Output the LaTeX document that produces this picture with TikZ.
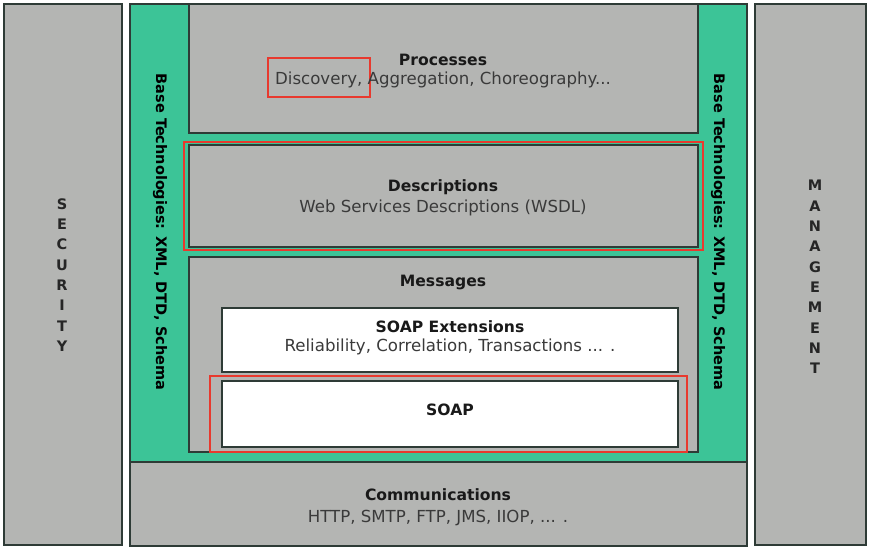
\documentclass[tikz,border=0pt]{standalone}
\usepackage{fontspec}
\setmainfont{DejaVu Sans}
\definecolor{panelgray}{HTML}{B4B5B3}
\definecolor{basegreen}{HTML}{3CC497}
\definecolor{hlred}{HTML}{E8392E}
\definecolor{edge}{HTML}{2E3B36}
\definecolor{subtext}{HTML}{3A3A3A}
\tikzset{
  panel/.style={fill=panelgray,draw=edge,line width=1.3pt},
  greenpanel/.style={fill=basegreen,draw=edge,line width=1.3pt},
  whitebox/.style={fill=white,draw=edge,line width=1.2pt},
  redbox/.style={draw=hlred,line width=2pt},
  title/.style={font=\fontsize{15.6}{17}\selectfont\bfseries,text=black!90,inner sep=0pt},
  sub/.style={font=\fontsize{16.6}{18}\selectfont,text=subtext,inner sep=0pt},
  vert/.style={font=\fontsize{14.5}{16}\selectfont\bfseries,rotate=-90,inner sep=0pt},
  stack/.style={font=\fontsize{14.5}{20.3}\selectfont\bfseries,align=center,inner sep=0pt,text=black!85}
}
\begin{document}
\begin{tikzpicture}[x=1pt,y=-1pt]
\useasboundingbox[fill=white] (0,0) rectangle (869,547);
% side panels
\draw[panel] (4,4) rectangle (122,545);
\draw[panel] (755,4) rectangle (866,545);
% green base
\draw[greenpanel] (130,4) rectangle (747,462);
% communications
\draw[panel] (130,462) rectangle (747,546);
% processes
\draw[panel] (189,4) rectangle (698,133);
% descriptions
\draw[panel] (189,145) rectangle (698,247);
\draw[redbox] (184,142) rectangle (703,250);
% messages
\draw[panel] (189,257) rectangle (698,452);
\draw[whitebox] (222,308) rectangle (678,372);
\draw[whitebox] (222,381) rectangle (678,447);
\draw[redbox] (210,376) rectangle (687,452);
% discovery highlight
\draw[redbox] (268,58) rectangle (370,97);
% texts
\node[title] (proc) at (443,60) {Processes};
\node[sub] (procsub) at (443,80) {Discovery, Aggregation, Choreography...};
\node[title] (desc) at (443,187) {Descriptions};
\node[sub] (descsub) at (443,208) {Web Services Descriptions (WSDL)};
\node[title] (msg) at (443,282) {Messages};
\node[title] (soapext) at (450,327) {SOAP Extensions};
\node[sub] (soapextsub) at (450,347) {Reliability, Correlation, Transactions ... .};
\node[title] (soap) at (450,410) {SOAP};
\node[title] (comm) at (438,495) {Communications};
\node[sub] (commsub) at (438,518) {HTTP, SMTP, FTP, JMS, IIOP, ... .};
\node[vert] (baseL) at (160,232) {Base Technologies: XML, DTD, Schema};
\node[vert] (baseR) at (718,232) {Base Technologies: XML, DTD, Schema};
\node[stack] (sec) at (62,275) {S\\E\\C\\U\\R\\I\\T\\Y};
\node[stack] (mgmt) at (815,277) {M\\A\\N\\A\\G\\E\\M\\E\\N\\T};
\end{tikzpicture}
\end{document}
